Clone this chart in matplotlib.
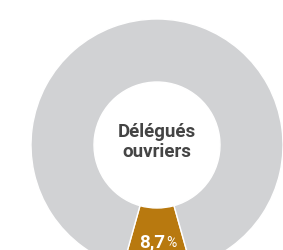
import matplotlib
matplotlib.use("Agg")
import matplotlib.pyplot as plt

labels = ["Délégués ouvriers", "Autres"]
shares = [8.7, 91.3]
colors = ["#b8790f", "#d1d2d4"]

W, H = 283, 250
fig = plt.figure(figsize=(W / 100, H / 100), dpi=100)
ax = fig.add_axes([0, 0, 1, 1])

cx, cy = 157, H - 145
R, ring = 126, 63
start = 270 - shares[0] * 3.6 / 2
ax.pie(shares, colors=colors, startangle=start, center=(cx, cy), radius=R,
       wedgeprops=dict(width=ring, edgecolor="white", linewidth=1.0),
       frame=True)
ax.set_xlim(0, W)
ax.set_ylim(0, H)
ax.set_aspect("equal")
ax.axis("off")

ax.text(cx, cy + 3, "Délégués\nouvriers", ha="center", va="center",
        fontsize=13.5, fontweight="bold", family="Roboto", color="#444444",
        linespacing=1.15)

# percentage label at the bottom of the ring
val = f"{shares[0]:.1f}".replace(".", ",")
ax.text(cx + 8, 3, val, ha="right", va="baseline", fontsize=13.5,
        fontweight="bold", family="Roboto", color="white")
ax.text(cx + 9, 3, "%", ha="left", va="baseline", fontsize=10,
        family="Roboto", color="white")

fig.savefig("out.png", dpi=100)
